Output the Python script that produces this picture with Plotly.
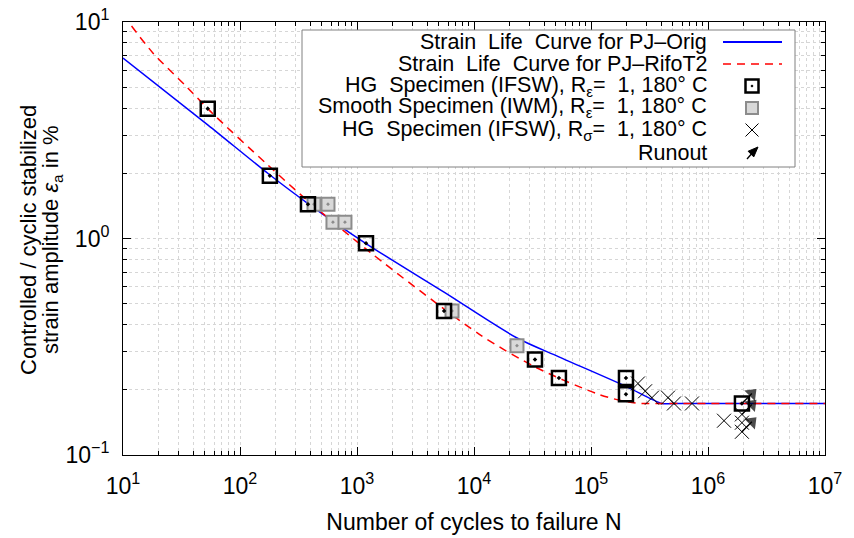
import plotly.graph_objects as go

# ---- data ----
orig_N = [10, 53.3, 177, 381, 1194, 5546, 23350, 53200, 199000, 404000, 500000, 1e7]
orig_eps = [6.81, 3.34, 1.98, 1.45, 0.948, 0.565, 0.347, 0.284, 0.2075, 0.173, 0.173, 0.173]

rifo_N = [10, 18, 35, 58.6, 169, 337, 1290, 11200, 34300, 112000, 176000, 260000, 330000, 1e7]
rifo_eps = [10.8, 7.2, 5.02, 3.77, 2.21, 1.58, 0.865, 0.36, 0.253, 0.192, 0.179, 0.173, 0.173, 0.173]

hg_N = [53, 180, 381, 1194, 5550, 33200, 53200, 199000, 199000, 1.95e6]
hg_eps = [3.98, 1.95, 1.44, 0.95, 0.463, 0.276, 0.227, 0.227, 0.191, 0.173]

smooth_N = [429, 565, 623, 789, 6490, 23300]
smooth_eps = [1.44, 1.44, 1.19, 1.19, 0.463, 0.32]

hgs_N = [2.52e5, 2.9e5, 3.32e5, 4.55e5, 5.12e5, 7.3e5, 1.37e6, 1.95e6, 1.95e6, 1.95e6]
hgs_eps = [0.214, 0.197, 0.184, 0.184, 0.173, 0.173, 0.144, 0.154, 0.141, 0.128]

runout_N = [1.95e6, 1.95e6, 1.95e6]
runout_eps = [0.173, 0.154, 0.128]

x_ticks = [1e1, 1e2, 1e3, 1e4, 1e5, 1e6, 1e7]
x_ticktext = ["10<sup>1</sup>", "10<sup>2</sup>", "10<sup>3</sup>", "10<sup>4</sup>",
              "10<sup>5</sup>", "10<sup>6</sup>", "10<sup>7</sup>"]
y_ticks = [0.1, 1, 10]
y_ticktext = ["10<sup>\u22121</sup>", "10<sup>0</sup>", "10<sup>1</sup>"]

y_title_lines = ["Controlled / cyclic stabilized",
                 "strain amplitude <i>\u03b5</i><sub>a</sub> in %"]
x_title = "Number of cycles to failure N"

legend_labels = [
    "Strain\u00a0\u00a0Life\u00a0\u00a0Curve for PJ\u2013Orig",
    "Strain\u00a0\u00a0Life\u00a0\u00a0Curve for PJ\u2013RifoT2",
    "HG\u00a0\u00a0Specimen (IFSW), R<sub>\u03b5</sub>=\u00a0\u00a01, 180\u00b0 C",
    "Smooth Specimen (IWM), R<sub>\u03b5</sub>=\u00a0\u00a01, 180\u00b0 C",
    "HG\u00a0\u00a0Specimen (IFSW), R<sub>\u03c3</sub>=\u00a0\u00a01, 180\u00b0 C",
    "Runout",
]

FONT = "Liberation Sans, Arial, Helvetica, sans-serif"
BLUE = "#0000ff"
RED = "#ff0000"
GRID = "#d6d6d6"
GRAY_FILL = "#d9d9d9"
GRAY_LINE = "#8c8c8c"

fig = go.Figure()

fig.add_trace(go.Scatter(x=orig_N, y=orig_eps, mode="lines",
                         line=dict(color=BLUE, width=1.5, shape="spline", smoothing=0.8),
                         showlegend=False, hoverinfo="skip"))
fig.add_trace(go.Scatter(x=rifo_N, y=rifo_eps, mode="lines",
                         line=dict(color=RED, width=1.5, dash="8px,6px", shape="spline", smoothing=0.8),
                         showlegend=False, hoverinfo="skip"))
fig.add_trace(go.Scatter(x=smooth_N, y=smooth_eps, mode="markers",
                         marker=dict(symbol="square-dot", size=13, color=GRAY_FILL,
                                     line=dict(color=GRAY_LINE, width=2)),
                         showlegend=False))
fig.add_trace(go.Scatter(x=hg_N, y=hg_eps, mode="markers",
                         marker=dict(symbol="square-open-dot", size=14, color="#000000",
                                     line=dict(color="#000000", width=2.5)),
                         showlegend=False))
fig.add_trace(go.Scatter(x=hgs_N, y=hgs_eps, mode="markers",
                         marker=dict(symbol="x-thin-open", size=14, color="#000000",
                                     line=dict(color="#000000", width=1)),
                         showlegend=False))

# runout arrows: short segment from each runout point to the upper right, arrow head at its end
ARROW_DX = 10 ** 0.085
ARROW_DY = 10 ** 0.046
run_x, run_y, run_size = [], [], []
for n, e in zip(runout_N, runout_eps):
    run_x += [n, n * ARROW_DX, None]
    run_y += [e, e * ARROW_DY, None]
    run_size += [0, 13, 0]
fig.add_trace(go.Scatter(x=run_x, y=run_y, mode="lines+markers",
                         line=dict(color="#000000", width=1.3),
                         marker=dict(symbol="triangle-up", angleref="previous", size=run_size,
                                     color="#000000", line=dict(width=0)),
                         showlegend=False, hoverinfo="skip"))

# ---- gnuplot-style key (text right aligned, sample on the right), built from shapes ----
plot_l, plot_r, plot_t, plot_b = 123, 825, 22, 455
W = plot_r - plot_l
H = plot_b - plot_t


def px(xp):
    return (xp - plot_l) / W


def py(yp):
    return 1 - (yp - plot_t) / H


box = dict(x0=302, x1=795, y0=30, y1=167)
rows = [42, 64, 86, 108, 130, 153]
text_right = 709
sample_l, sample_r, sample_c = 723, 782, 752

shapes = [dict(type="rect", xref="paper", yref="paper",
               x0=px(box["x0"]), x1=px(box["x1"]), y0=py(box["y1"]), y1=py(box["y0"]),
               line=dict(color="#808080", width=1), fillcolor="white", layer="above")]
annotations = []
for lab, r in zip(legend_labels, rows):
    annotations.append(dict(x=px(text_right), y=py(r), xref="paper", yref="paper",
                            text=lab, showarrow=False, xanchor="right", yanchor="middle",
                            font=dict(family=FONT, size=21.5, color="#000000")))
shapes.append(dict(type="line", xref="paper", yref="paper", x0=px(sample_l), x1=px(sample_r),
                   y0=py(rows[0]), y1=py(rows[0]), line=dict(color=BLUE, width=2), layer="above"))
shapes.append(dict(type="line", xref="paper", yref="paper", x0=px(sample_l), x1=px(sample_r),
                   y0=py(rows[1]), y1=py(rows[1]), line=dict(color=RED, width=1.5, dash="8px,6px"),
                   layer="above"))
# open black square with centre dot
h = 6.5
shapes.append(dict(type="rect", xref="paper", yref="paper",
                   x0=px(sample_c - h), x1=px(sample_c + h), y0=py(rows[2] + h), y1=py(rows[2] - h),
                   line=dict(color="#000000", width=2.5), layer="above"))
shapes.append(dict(type="rect", xref="paper", yref="paper",
                   x0=px(sample_c - 0.7), x1=px(sample_c + 0.7), y0=py(rows[2] + 0.7), y1=py(rows[2] - 0.7),
                   line=dict(color="#000000", width=1), fillcolor="#000000", layer="above"))
# grey square
h = 6
shapes.append(dict(type="rect", xref="paper", yref="paper",
                   x0=px(sample_c - h), x1=px(sample_c + h), y0=py(rows[3] + h), y1=py(rows[3] - h),
                   line=dict(color=GRAY_LINE, width=2), fillcolor=GRAY_FILL, layer="above"))
# cross
h = 6.5
for sgn in (1, -1):
    shapes.append(dict(type="line", xref="paper", yref="paper",
                       x0=px(sample_c - h), x1=px(sample_c + h),
                       y0=py(rows[4] - sgn * h), y1=py(rows[4] + sgn * h),
                       line=dict(color="#000000", width=1), layer="above"))
# runout arrow
tail = (sample_c - 5, rows[5] + 6)
tip = (sample_c + 6, rows[5] - 6)
shapes.append(dict(type="line", xref="paper", yref="paper",
                   x0=px(tail[0]), y0=py(tail[1]), x1=px(tip[0] - 4), y1=py(tip[1] + 4),
                   line=dict(color="#000000", width=1.3), layer="above"))
L, Hw = 10, 4
bx, by = tip[0] - L * 0.7071, tip[1] + L * 0.7071
p1 = (bx + Hw * 0.7071, by + Hw * 0.7071)
p2 = (bx - Hw * 0.7071, by - Hw * 0.7071)
path = "M {:.5f} {:.5f} L {:.5f} {:.5f} L {:.5f} {:.5f} Z".format(
    px(tip[0]), py(tip[1]), px(p1[0]), py(p1[1]), px(p2[0]), py(p2[1]))
shapes.append(dict(type="path", xref="paper", yref="paper", path=path,
                   fillcolor="#000000", line=dict(color="#000000", width=1), layer="above"))

# y axis title as two rotated lines (tight line spacing as in the reference)
for line_text, xc in zip(y_title_lines, [28, 52]):
    annotations.append(dict(x=px(xc), y=py(240), xref="paper", yref="paper",
                            text=line_text, textangle=-90, showarrow=False,
                            xanchor="center", yanchor="middle",
                            font=dict(family=FONT, size=22, color="#000000")))

minor_x = [m * 10 ** k for k in range(1, 7) for m in range(2, 10)]
minor_y = [m * 10 ** k for k in range(-1, 1) for m in range(2, 10)]

axis_common = dict(
    type="log", showline=True, linecolor="#000000", linewidth=1, mirror="ticks",
    ticks="inside", ticklen=8, tickcolor="#000000", tickwidth=1, automargin=False,
    showgrid=True, gridcolor=GRID, griddash="dot", gridwidth=1, zeroline=False,
    tickfont=dict(family=FONT, size=23, color="#000000"),
)

fig.update_layout(
    width=854, height=538,
    margin=dict(l=plot_l, r=854 - plot_r, t=plot_t, b=538 - plot_b),
    paper_bgcolor="white", plot_bgcolor="white",
    font=dict(family=FONT, color="#000000"),
    showlegend=False,
    xaxis=dict(range=[1, 7], tickmode="array", tickvals=x_ticks, ticktext=x_ticktext,
               ticklabelstandoff=10,
               title=dict(text=x_title, standoff=16,
                          font=dict(family=FONT, size=23)),
               minor=dict(tickmode="array", tickvals=minor_x, ticks="inside", ticklen=4,
                          tickcolor="#000000", showgrid=True, gridcolor=GRID, griddash="dot"),
               **axis_common),
    yaxis=dict(range=[-1, 1], tickmode="array", tickvals=y_ticks, ticktext=y_ticktext,
               ticklabelstandoff=8,
               minor=dict(tickmode="array", tickvals=minor_y, ticks="inside", ticklen=4,
                          tickcolor="#000000", showgrid=True, gridcolor=GRID, griddash="dot"),
               **axis_common),
    shapes=shapes,
    annotations=annotations,
)

fig.write_html("out.html")
